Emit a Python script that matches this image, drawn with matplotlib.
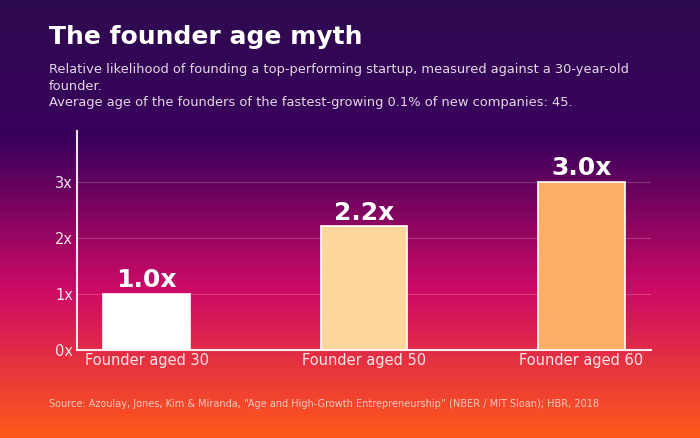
import numpy as np
import matplotlib
matplotlib.use("Agg")
import matplotlib.pyplot as plt
from matplotlib.colors import LinearSegmentedColormap

categories = ["Founder aged 30", "Founder aged 50", "Founder aged 60"]
values = [1.0, 2.2, 3.0]
value_labels = ["1.0x", "2.2x", "3.0x"]
bar_colors = ["#ffffff", "#ffd59e", "#ffae66"]
yticks = [0, 1, 2, 3]
ytick_labels = ["0x", "1x", "2x", "3x"]

title = "The founder age myth"
subtitle = ("Relative likelihood of founding a top-performing startup, measured against a 30-year-old\n"
            "founder.\n"
            "Average age of the founders of the fastest-growing 0.1% of new companies: 45.")
source = "Source: Azoulay, Jones, Kim & Miranda, \u201cAge and High-Growth Entrepreneurship\u201d (NBER / MIT Sloan); HBR, 2018"

plt.rcParams['font.family'] = ['DejaVu Sans']

fig = plt.figure(figsize=(7, 4.38), dpi=100)

# background gradient
bg = fig.add_axes([0, 0, 1, 1], zorder=-10)
cmap = LinearSegmentedColormap.from_list(
    "bg", [(0.0, "#2e0b50"), (0.32, "#3a005c"), (0.66, "#cc0a66"), (1.0, "#ff5a1a")])
grad = np.linspace(0, 1, 512).reshape(-1, 1)
bg.imshow(grad, aspect="auto", cmap=cmap, extent=[0, 1, 1, 0])
bg.set_xlim(0, 1)
bg.set_ylim(1, 0)
bg.axis("off")

ax = fig.add_axes([0.11, 0.2009, 0.82, 0.5])
ax.set_facecolor("none")
x = np.arange(len(categories))
bars = ax.bar(x, values, width=0.4, color=bar_colors, edgecolor="white", linewidth=1.2, zorder=3)
for xi, v, lab in zip(x, values, value_labels):
    ax.annotate(lab, (xi, v), xytext=(0, 1), textcoords="offset points",
                ha="center", va="bottom", fontsize=18, fontweight="bold", color="white", zorder=4)

ax.set_ylim(0, 3.9)
ax.set_yticks(yticks)
ax.set_yticklabels(ytick_labels)
ax.set_xticks(x)
ax.set_xticklabels(categories)
ax.tick_params(axis="both", length=0, labelsize=10.5, labelcolor=(1, 1, 1, 0.88))
ax.tick_params(axis="y", pad=3)
ax.tick_params(axis="x", pad=2)
ax.grid(axis="y", color="white", alpha=0.2, linewidth=0.8, zorder=0)
ax.set_axisbelow(True)
for s in ["top", "right"]:
    ax.spines[s].set_visible(False)
for s in ["left", "bottom"]:
    ax.spines[s].set_color((1, 1, 1, 0.9))
    ax.spines[s].set_linewidth(1.5)

fig.text(49 / 700, 1 - 37 / 438, title, fontsize=18, fontweight="bold", color="white", va="center", ha="left")
fig.text(49 / 700, 1 - 63 / 438, subtitle, fontsize=9.35, color=(1, 1, 1, 0.85), va="top", ha="left", linespacing=1.36)
fig.text(49 / 700, 1 - 404 / 438, source, fontsize=7, color=(1, 1, 1, 0.7), va="center", ha="left")

fig.savefig("out.png", dpi=100)
